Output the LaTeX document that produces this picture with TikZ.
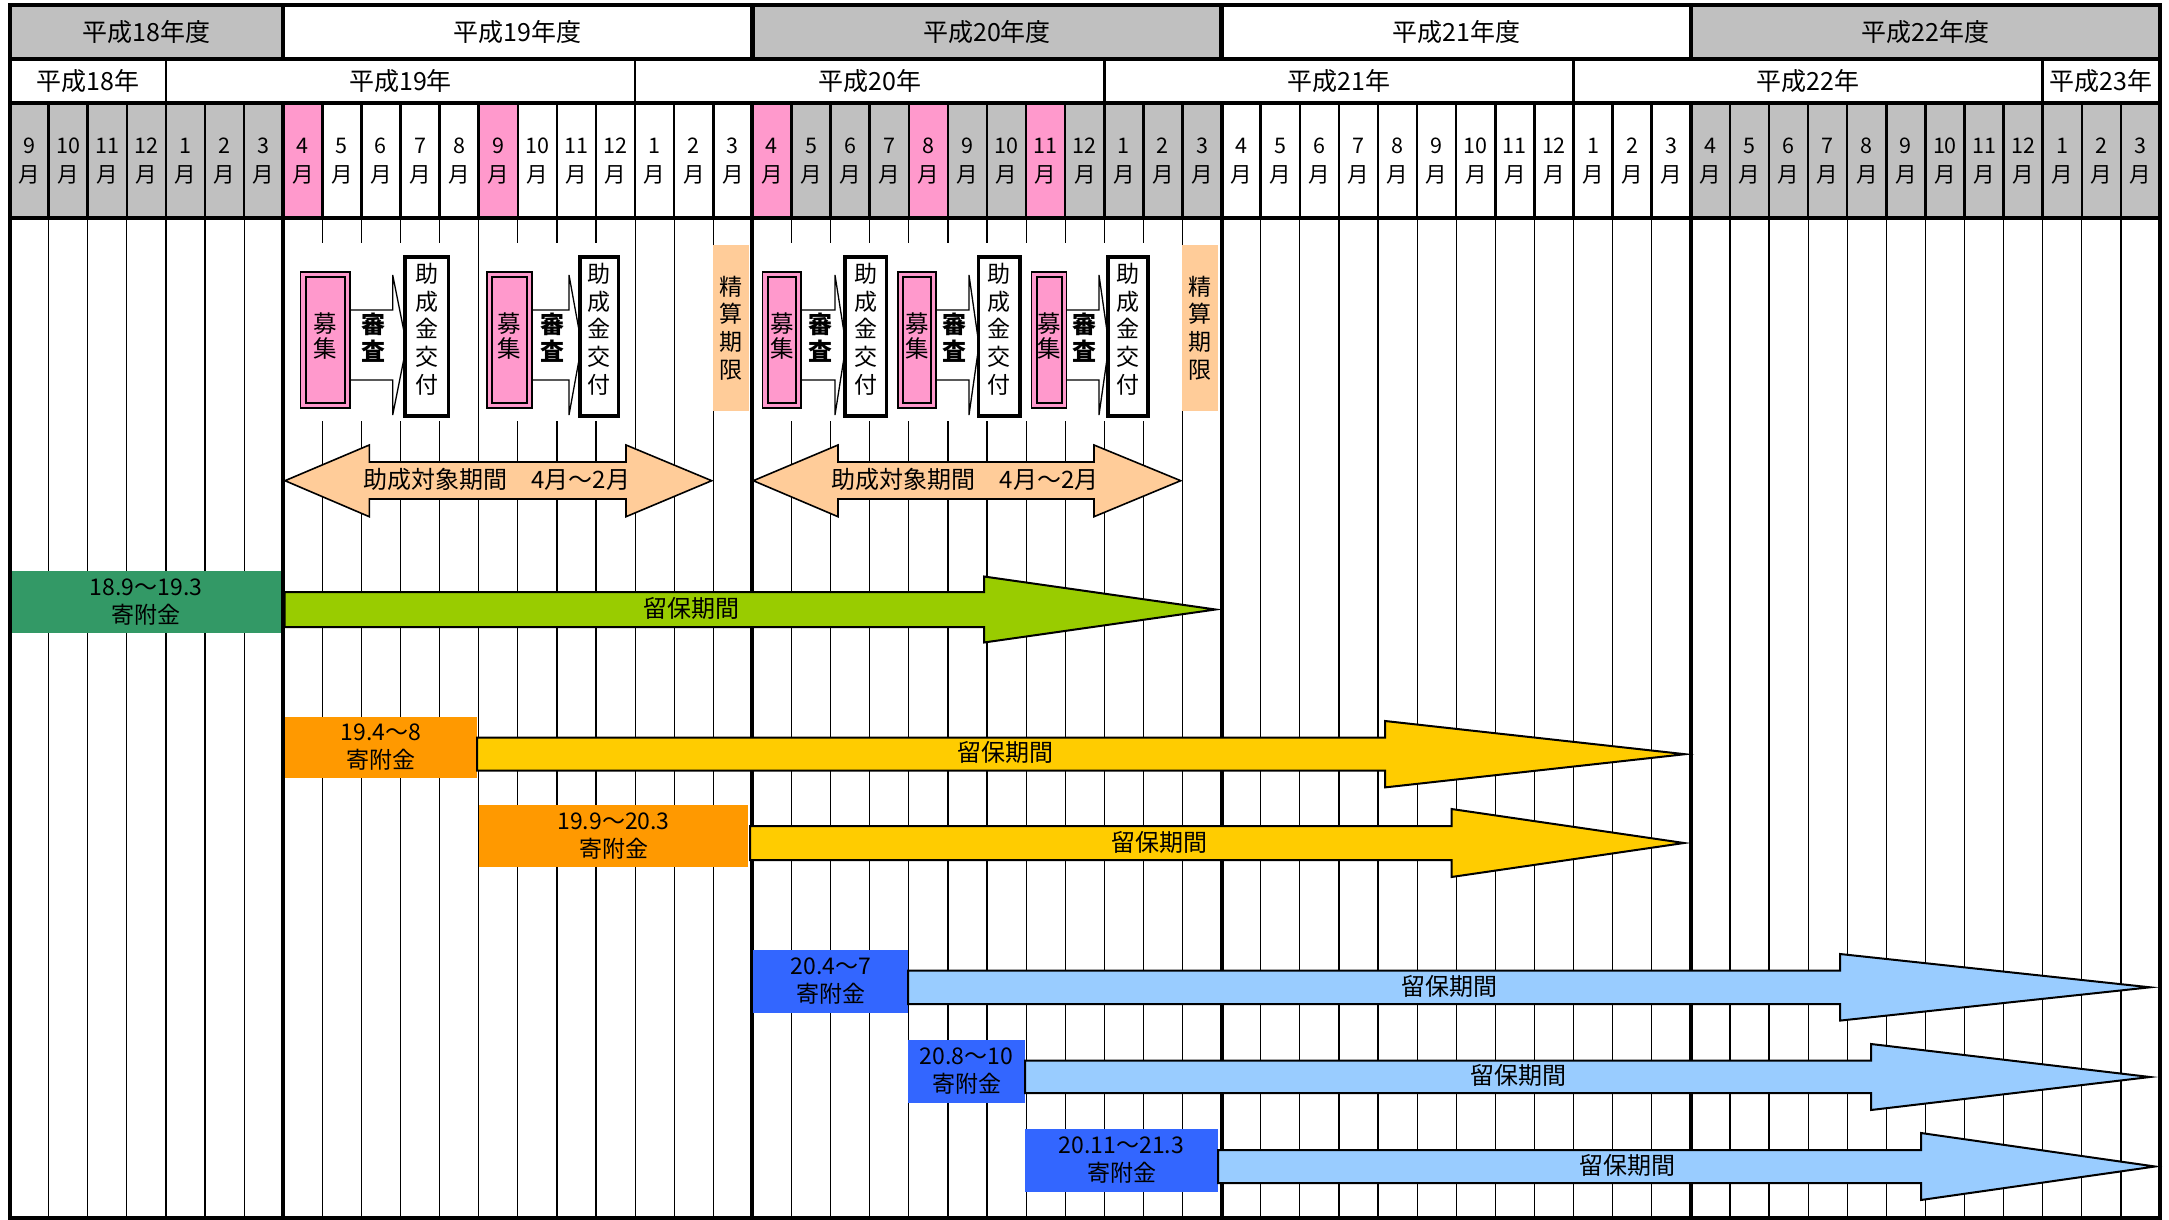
\documentclass[tikz,border=0pt]{standalone}
\usepackage{fontspec}
\setmainfont{Noto Sans CJK JP}
\definecolor{gry}{HTML}{C0C0C0}
\definecolor{pnk}{HTML}{FF99CC}
\definecolor{peach}{HTML}{FFCC99}
\definecolor{dgreen}{HTML}{339966}
\definecolor{lgreen}{HTML}{99CC00}
\definecolor{orng}{HTML}{FF9900}
\definecolor{yel}{HTML}{FFCC00}
\definecolor{blu}{HTML}{3366FF}
\definecolor{lblu}{HTML}{99CCFF}
\tikzset{
  hdr/.style={font=\fontsize{25}{28}\selectfont, inner sep=0pt},
  mon/.style={font=\fontsize{21.5}{29}\selectfont, align=center, inner sep=0pt},
  vtext/.style={font=\fontsize{23}{27.7}\selectfont, align=center, inner sep=0pt},
  vshort/.style={font=\fontsize{23.5}{25.5}\selectfont, align=center, inner sep=0pt},
  vbold/.style={font=\fontsize{24}{27}\selectfont\bfseries, align=center, inner sep=0pt},
  lbl/.style={font=\fontsize{23}{28}\selectfont, align=center, inner sep=0pt},
  rlbl/.style={font=\fontsize{24}{28}\selectfont, inner sep=0pt},
  arrowline/.style={line width=2pt, line join=miter},
}
% #1 a, #2 b, #3 h, #4 t, #5 c, #6 d, #7 name
\newcommand\appset[7]{%
  \fill[white] (#1-6,243) rectangle (#6+6,421);
  \draw[line width=1.3pt, fill=white, line join=miter] (#2-6,310) -- (#3,310) -- (#3,275) -- (#4,345) -- (#3,415) -- (#3,380) -- (#2-6,380) -- cycle;
  \fill[pnk] (#1,272) rectangle (#2,408);
  \draw[line width=1.2pt] (#1,272) rectangle (#2,408);
  \draw[line width=2.4pt] (#1+5,277) rectangle (#2-5,403);
  \node[vshort] (bo#7) at ({(#1+#2)/2},336) {募\\集};
  \node[vbold] (sh#7) at ({(#2+#3)/2+2},338) {審\\査};
  \draw[line width=3.5pt, fill=white] (#5,257) rectangle (#6,416);
  \node[vtext] (jo#7) at ({(#5+#6)/2},329) {助\\成\\金\\交\\付};
}
\begin{document}
\begin{tikzpicture}[x=1pt,y=-1pt, declare function={X(\i)=9.5+39.1*\i;}]
\useasboundingbox (0,0) rectangle (2169,1220);
\fill[white] (0,0) rectangle (2169,1220);
% header fills
\fill[gry] ({X(0)},5) rectangle ({X(7)},59);
\fill[gry] ({X(19)},5) rectangle ({X(31)},59);
\fill[gry] ({X(43)},5) rectangle ({X(55)},59);
\fill[gry] ({X(0)},103) rectangle ({X(7)},218);
\fill[gry] ({X(19)},103) rectangle ({X(31)},218);
\fill[gry] ({X(43)},103) rectangle ({X(55)},218);
\foreach \i in {7,12,19,23,26} \fill[pnk] ({X(\i)},103) rectangle ({X(\i+1)},218);
% body lines
\foreach \i in {1,...,54} \draw[line width=1.2pt] ({X(\i)},218) -- ({X(\i)},1218);
\foreach \i in {7,19,31,43} \draw[line width=4pt] ({X(\i)},218) -- ({X(\i)},1218);
% month separators
\foreach \i in {1,...,54} \draw[line width=2.5pt] ({X(\i)},103) -- ({X(\i)},218);
\foreach \i in {7,19,31,43} \draw[line width=4pt] ({X(\i)},103) -- ({X(\i)},218);
% row 2 separators
\foreach \i in {4,16,28,40,52} \draw[line width=2.5pt] ({X(\i)},59) -- ({X(\i)},103);
% row 1 separators
\foreach \i in {7,19,31,43} \draw[line width=4.5pt] ({X(\i)},5) -- ({X(\i)},59);
\foreach \y in {59,103,218} \draw[line width=4pt] ({X(0)},\y) -- ({X(55)},\y);
% header text
\node[hdr] (fy18) at ({(X(0)+X(7))/2},32) {平成18年度};
\node[hdr] (fy19) at ({(X(7)+X(19))/2},32) {平成19年度};
\node[hdr] (fy20) at ({(X(19)+X(31))/2},32) {平成20年度};
\node[hdr] (fy21) at ({(X(31)+X(43))/2},32) {平成21年度};
\node[hdr] (fy22) at ({(X(43)+X(55))/2},32) {平成22年度};
\node[hdr] (cy18) at ({(X(0)+X(4))/2},81) {平成18年};
\node[hdr] (cy19) at ({(X(4)+X(16))/2},81) {平成19年};
\node[hdr] (cy20) at ({(X(16)+X(28))/2},81) {平成20年};
\node[hdr] (cy21) at ({(X(28)+X(40))/2},81) {平成21年};
\node[hdr] (cy22) at ({(X(40)+X(52))/2},81) {平成22年};
\node[hdr] (cy23) at ({(X(52)+X(55))/2},81) {平成23年};
\foreach \i in {0,...,54} {
  \pgfmathtruncatemacro\m{mod(8+\i,12)+1}
  \node[mon] (m\i) at ({X(\i)+19.55},161.5) {\m\\月};
}
% application groups
\appset{300.7}{350}{392.7}{406.7}{405}{448.3}{1}
\appset{487}{532}{569}{581.7}{580}{618.3}{2}
\appset{762.7}{801}{835}{846}{845}{886.7}{3}
\appset{898}{936}{969}{979}{978.7}{1020}{4}
\appset{1031.7}{1066.7}{1099}{1109}{1108}{1148}{5}
% settlement deadline
\fill[peach] (712.7,245) rectangle (749,411);
\node[vtext] (se1) at (731,328) {精\\算\\期\\限};
\fill[peach] (1181.7,245) rectangle (1217.7,411);
\node[vtext] (se2) at (1199.7,328) {精\\算\\期\\限};
% double arrows
\draw[line width=1.6pt, fill=peach, line join=miter] (285,480.7) -- (369.3,445) -- (369.3,462) -- (626,462) -- (626,445) -- (711.7,480.7) -- (626,516.7) -- (626,499) -- (369.3,499) -- (369.3,516.7) -- cycle;
\node[rlbl] (da1) at (496.7,479) {助成対象期間　4月～2月};
\draw[line width=1.6pt, fill=peach, line join=miter] (753.3,480.7) -- (838,445) -- (838,462) -- (1094,462) -- (1094,445) -- (1180.7,480.7) -- (1094,516.7) -- (1094,499) -- (838,499) -- (838,516.7) -- cycle;
\node[rlbl] (da2) at (965,479) {助成対象期間　4月～2月};
% donations
\fill[dgreen] (10.5,571) rectangle (281,633);
\node[lbl] (d1) at (146,602) {18.9～19.3\\寄附金};
\draw[arrowline, fill=lgreen] (284.6,592) -- (984,592) -- (984,576.5) -- (1215.6,609.5) -- (984,642.5) -- (984,627) -- (284.6,627) -- cycle;
\node[rlbl] (r1) at (691.6,608) {留保期間};

\fill[orng] (285,717) rectangle (477,778);
\node[lbl] (d2) at (381,747.5) {19.4～8\\寄附金};
\draw[arrowline, fill=yel] (477,737.7) -- (1385,737.7) -- (1385,721) -- (1685,754.2) -- (1385,787.4) -- (1385,770.7) -- (477,770.7) -- cycle;
\node[rlbl] (r2) at (1005,752) {留保期間};

\fill[orng] (479,805) rectangle (748,867);
\node[lbl] (d3) at (613.5,836) {19.9～20.3\\寄附金};
\draw[arrowline, fill=yel] (750,826) -- (1451.5,826) -- (1451.5,809) -- (1684,843) -- (1451.5,877) -- (1451.5,860) -- (750,860) -- cycle;
\node[rlbl] (r3) at (1159,842) {留保期間};

\fill[blu] (753.4,950) rectangle (908,1012.7);
\node[lbl] (d4) at (830.7,981.3) {20.4～7\\寄附金};
\draw[arrowline, fill=lblu] (908,970.7) -- (1840,970.7) -- (1840,954) -- (2150,987.3) -- (1840,1020.6) -- (1840,1004) -- (908,1004) -- cycle;
\node[rlbl] (r4) at (1449.6,986) {留保期間};

\fill[blu] (908,1040) rectangle (1025,1102.7);
\node[lbl] (d5) at (966.5,1071.3) {20.8～10\\寄附金};
\draw[arrowline, fill=lblu] (1025,1060.7) -- (1871,1060.7) -- (1871,1044) -- (2150,1077) -- (1871,1110) -- (1871,1093) -- (1025,1093) -- cycle;
\node[rlbl] (r5) at (1518,1075) {留保期間};

\fill[blu] (1025,1129) rectangle (1218,1191.7);
\node[lbl] (d6) at (1121.5,1160.3) {20.11～21.3\\寄附金};
\draw[arrowline, fill=lblu] (1218,1150) -- (1921,1150) -- (1921,1133) -- (2155,1166.5) -- (1921,1200) -- (1921,1183) -- (1218,1183) -- cycle;
\node[rlbl] (r6) at (1627.6,1165) {留保期間};
% outer border
\draw[line width=4pt] ({X(0)},5) rectangle ({X(55)},1218);
\end{tikzpicture}
\end{document}
